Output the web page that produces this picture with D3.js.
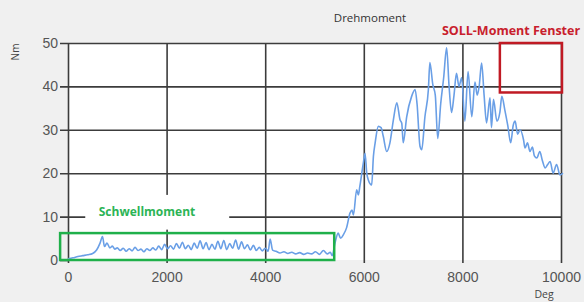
<!DOCTYPE html>
<html>
<head>
<meta charset="utf-8">
<script src="https://cdn.jsdelivr.net/npm/d3@7"></script>
<style>
  body { margin: 0; background: #f0f0f0; }
  svg { display: block; font-family: "Open Sans", "Liberation Sans", sans-serif; }
</style>
</head>
<body>
<svg id="chart" width="584" height="302"></svg>
<script>
// torque curve
const deg = [0, 100, 200, 300, 400, 500, 580, 650, 700, 740, 790, 850, 900, 950, 1000, 1060, 1120, 1180, 1240, 1300,
  1360, 1420, 1480, 1540, 1600, 1660, 1720, 1780, 1840, 1900, 1960, 2020, 2080, 2140, 2200, 2260, 2320, 2380, 2440, 2500,
  2560, 2620, 2680, 2740, 2800, 2860, 2920, 2980, 3040, 3100, 3160, 3220, 3280, 3340, 3400, 3460, 3520, 3580, 3640, 3700,
  3760, 3820, 3880, 3940, 4000, 4060, 4100, 4150, 4220, 4300, 4380, 4460, 4540, 4620, 4700, 4780, 4860, 4940, 5020, 5100,
  5180, 5260, 5320, 5360, 5415, 5480, 5530, 5585, 5650, 5720, 5760, 5790, 5855, 5890, 5920, 5990, 6025, 6060, 6090, 6160,
  6195, 6230, 6295, 6350, 6395, 6465, 6530, 6600, 6670, 6735, 6770, 6800, 6870, 6970, 7040, 7080, 7140, 7175, 7240, 7310,
  7340, 7400, 7450, 7500, 7560, 7620, 7680, 7730, 7780, 7830, 7880, 7930, 7985, 8050, 8115, 8190, 8255, 8300, 8340, 8390,
  8440, 8490, 8560, 8590, 8630, 8700, 8760, 8800, 8860, 8920, 8980, 9030, 9070, 9120, 9170, 9240, 9270, 9320, 9370, 9420,
  9460, 9510, 9570, 9620, 9680, 9730, 9780, 9840, 9910, 9980, 10040];
const nm = [0.3, 0.5, 0.8, 1.0, 1.2, 1.5, 2.3, 3.9, 5.4, 3.1, 3.9, 2.8, 3.2, 2.5, 2.8, 2.2, 2.7, 2.0, 2.6, 2.1,
  2.9, 2.2, 2.5, 1.9, 2.6, 2.2, 2.8, 2.3, 3.2, 2.4, 3.6, 2.6, 3.3, 2.5, 3.8, 2.7, 4.1, 2.6, 3.4, 2.4,
  3.9, 2.7, 4.4, 2.6, 4.0, 2.4, 3.6, 2.5, 4.3, 2.6, 4.5, 2.4, 3.8, 2.7, 4.6, 2.5, 4.2, 2.6, 3.5, 2.3,
  3.4, 2.2, 2.9, 2.1, 2.7, 2.0, 4.8, 2.3, 2.0, 1.6, 1.9, 1.5, 1.8, 1.4, 1.7, 1.3, 1.6, 1.4, 1.9, 1.3,
  2.2, 1.4, 1.8, 1.0, 3.9, 6.2, 5.0, 5.8, 7.4, 10.8, 11.5, 10.4, 16.2, 15.0, 17.0, 22.3, 24.6, 20.0, 18.5, 17.3,
  23.9, 27.0, 30.8, 30.5, 28.5, 25.0, 27.0, 32.3, 36.2, 32.3, 31.5, 27.0, 33.0, 37.7, 39.3, 36.0, 26.2, 25.4, 33.0, 39.3,
  45.5, 40.4, 38.0, 28.0, 36.0, 42.0, 48.9, 40.0, 34.0, 38.0, 43.0, 40.0, 42.0, 32.0, 43.4, 33.0, 41.0, 38.0, 40.0, 45.4,
  38.0, 31.6, 37.4, 30.5, 37.0, 32.0, 34.0, 37.7, 34.6, 31.0, 27.0, 31.0, 32.0, 29.0, 30.0, 27.7, 25.8, 27.0, 25.0, 26.0,
  24.0, 23.5, 25.0, 23.0, 21.2, 22.0, 22.7, 20.0, 22.0, 19.6, 20.0];

const xTicks = [0, 2000, 4000, 6000, 8000, 10000];
const yTicks = [0, 10, 20, 30, 40, 50];

// annotation boxes [deg0, deg1, nm0, nm1]
const schwellBox = [-160, 5400, 0, 6.2];
const sollBox = [8760, 10020, 38.6, 50];
const schwellLabelBg = [350, 3270, 7.0, 15.0];

const svg = d3.select("#chart");
const margin = {top: 43, right: 23, bottom: 42, left: 68};
const width = 584, height = 302;

const x = d3.scaleLinear().domain([0, 10000]).range([margin.left, width - margin.right]);
const y = d3.scaleLinear().domain([0, 50]).range([height - margin.bottom, margin.top]);

// plot background
svg.append("rect")
  .attr("x", x(0)).attr("y", y(50))
  .attr("width", x(10000) - x(0)).attr("height", y(0) - y(50))
  .attr("fill", "#fff");

const grid = "#3c3c3c";

// horizontal grid + left ticks
svg.append("g")
  .attr("transform", `translate(${x(0)},0)`)
  .call(d3.axisLeft(y).tickValues(yTicks).tickSize(-(x(10000) - x(0))).tickPadding(10).tickSizeOuter(0))
  .call(g => g.select(".domain").remove())
  .call(g => g.selectAll(".tick line").attr("stroke", grid).attr("stroke-width", 1.6).attr("x1", -8))
  .call(g => g.selectAll(".tick").filter(d => d === 0).select("line").attr("x2", 0))
  .call(g => g.selectAll("text").attr("fill", "#555").attr("font-size", 14));

// vertical grid + bottom ticks
svg.append("g")
  .attr("transform", `translate(0,${y(0)})`)
  .call(d3.axisBottom(x).tickValues(xTicks).tickFormat(d3.format("d")).tickSize(-(y(0) - y(50))).tickPadding(10).tickSizeOuter(0))
  .call(g => g.select(".domain").remove())
  .call(g => g.selectAll(".tick line").attr("stroke", grid).attr("stroke-width", 1.6).attr("y1", 3))
  .call(g => g.selectAll("text").attr("fill", "#555").attr("font-size", 14).attr("dy", "0.85em"));

// white patch behind the Schwellmoment label
svg.append("rect")
  .attr("x", x(schwellLabelBg[0])).attr("y", y(schwellLabelBg[3]))
  .attr("width", x(schwellLabelBg[1]) - x(schwellLabelBg[0]))
  .attr("height", y(schwellLabelBg[2]) - y(schwellLabelBg[3]))
  .attr("fill", "#fff");

// curve
const line = d3.line()
  .x((d, i) => x(deg[i]))
  .y(d => y(d))
  .curve(d3.curveMonotoneX);

svg.append("path")
  .datum(nm)
  .attr("fill", "none")
  .attr("stroke", "#6a9fe6")
  .attr("stroke-width", 1.6)
  .attr("stroke-linejoin", "round")
  .attr("d", line);

// boxes
svg.append("rect")
  .attr("x", x(schwellBox[0])).attr("y", y(schwellBox[3]))
  .attr("width", x(schwellBox[1]) - x(schwellBox[0]))
  .attr("height", y(schwellBox[2]) - y(schwellBox[3]))
  .attr("fill", "none").attr("stroke", "#1fb04a").attr("stroke-width", 2.5);

svg.append("rect")
  .attr("x", x(sollBox[0])).attr("y", y(sollBox[3]))
  .attr("width", x(sollBox[1]) - x(sollBox[0]))
  .attr("height", y(sollBox[2]) - y(sollBox[3]))
  .attr("fill", "none").attr("stroke", "#c01a24").attr("stroke-width", 2.5);

// texts
svg.append("text")
  .attr("x", 370).attr("y", 22)
  .attr("text-anchor", "middle")
  .attr("font-size", 11.5).attr("fill", "#333")
  .text("Drehmoment");

svg.append("text")
  .attr("x", 511).attr("y", 35)
  .attr("text-anchor", "middle")
  .attr("font-size", 12.5).attr("font-weight", "bold").attr("fill", "#c8202c")
  .text("SOLL-Moment Fenster");

svg.append("text")
  .attr("x", 147).attr("y", 216)
  .attr("text-anchor", "middle")
  .attr("font-size", 12).attr("font-weight", "bold").attr("fill", "#2cb455")
  .text("Schwellmoment");

svg.append("text")
  .attr("transform", "translate(19,52) rotate(-90)")
  .attr("text-anchor", "middle")
  .attr("font-size", 10).attr("fill", "#444")
  .text("Nm");

svg.append("text")
  .attr("x", 544).attr("y", 298)
  .attr("text-anchor", "middle")
  .attr("font-size", 10.5).attr("fill", "#444")
  .text("Deg");
</script>
</body>
</html>
